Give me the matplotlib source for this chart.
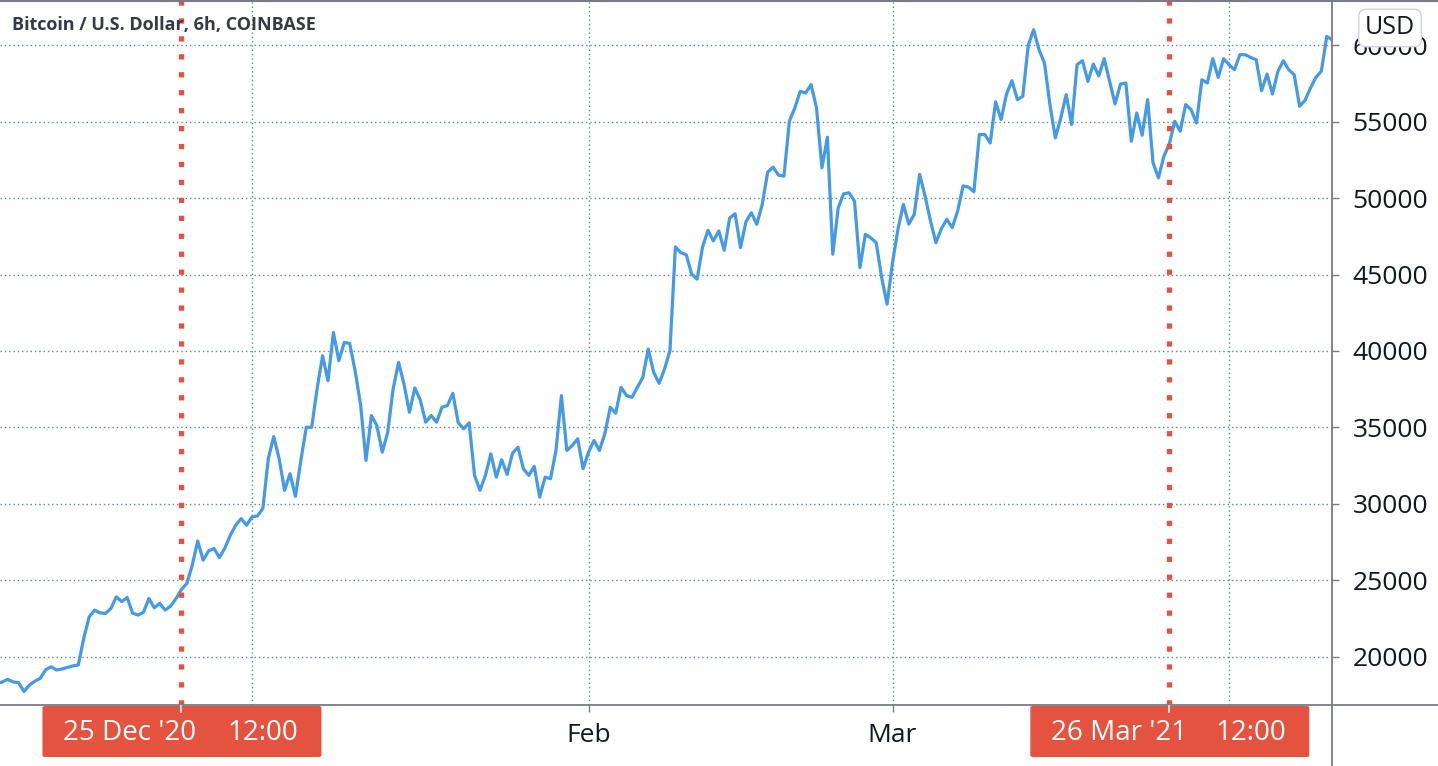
import matplotlib.pyplot as plt
import matplotlib.dates as mdates
from matplotlib.lines import Line2D
from matplotlib.patches import FancyBboxPatch
import pandas as pd

plt.rcParams['font.family'] = ['Open Sans', 'DejaVu Sans']

# BTC/USD closes, every 12 hours from 8 Dec 2020 12:00
prices = [
    18250, 18350, 18520, 18350, 18300, 17720, 18150, 18400, 18590, 19150,
    19340, 19130, 19200, 19300, 19400, 19460, 21200, 22600, 23050, 22870,
    22830, 23150, 23916, 23600, 23877, 22850, 22722, 22900, 23812, 23200,
    23485, 23048, 23309, 23800, 24400, 24790, 26000, 27572, 26312, 26919,
    27075, 26488, 27100, 27944, 28600, 29034, 28597, 29150, 29200, 29700,
    32950, 34405, 32950, 30881, 31971, 30489, 32839, 35012, 35012, 37550,
    39692, 38060, 41213, 39366, 40560, 40495, 38700, 36500, 32839, 35776,
    35123, 33381, 34686, 37518, 39255, 37845, 35992, 37584, 36800, 35339,
    35776, 35339, 36318, 36430, 37231, 35300, 34908, 35300, 31860, 30881,
    31860, 33275, 31748, 32885, 31924, 33315, 33706, 32297, 31860, 32447,
    30443, 31748, 31644, 33491, 37082, 33491, 33817, 34255, 32297, 33381,
    34145, 33491, 34582, 36318, 35926, 37623, 37082, 36970, 37623, 38276,
    40129, 38602, 37885, 38824, 40018, 46807, 46434, 46300, 45024, 44698,
    46800, 47897, 47198, 47850, 46591, 48700, 48980, 46761, 48458, 49045,
    48288, 49594, 51700, 52028, 51500, 51441, 55031, 55899, 56989, 56878,
    57426, 55899, 51983, 53986, 46330, 49372, 50285, 50351, 49800, 45455,
    47635, 47400, 47087, 44803, 43066, 45782, 47962, 49594, 48300, 48941,
    51552, 50135, 48504, 47087, 48000, 48614, 48066, 49156, 50800, 50723,
    50416, 54163, 54163, 53614, 56300, 55142, 56800, 57687, 56447, 56662,
    60000, 61016, 59700, 58836, 56120, 53941, 55250, 56773, 54816, 58731,
    58993, 57641, 58771, 58000, 59123, 57641, 56160, 57465, 57530, 53725,
    55572, 54117, 56447, 52309, 51330, 52746, 53549, 55031, 54378, 56120,
    55794, 54919, 57752, 57530, 59123, 57900, 59123, 58731, 58405, 59384,
    59384, 59200, 59058, 57034, 58118, 56812, 58294, 58993, 58400, 58079,
    56010, 56400, 57200, 57902, 58300, 60579, 60363,
]
dates = pd.date_range('2020-12-08 12:00', periods=len(prices), freq='12h')

price_ticks = [20000, 25000, 30000, 35000, 40000, 45000, 50000, 55000, 60000]
month_ticks = pd.to_datetime(['2021-01-01', '2021-02-01', '2021-03-01', '2021-04-01'])
month_labels = ['', 'Feb', 'Mar', '']
marker_dates = pd.to_datetime(['2020-12-25 12:00', '2021-03-26 12:00'])
marker_days = ["25 Dec '20", "26 Mar '21"]
marker_times = ['12:00', '12:00']

BLUE = '#4499e9'
RED = '#e4533f'
GRID = '#5b8c8f'
AXIS = '#787b86'
TEXT = '#131722'

W, H = 1438, 766
fig = plt.figure(figsize=(W / 100, H / 100), dpi=100)
ax = fig.add_axes([0, 61 / H, 1331.5 / W, 704 / H])

ax.plot(dates, prices, color=BLUE, lw=2.3, solid_joinstyle='round', zorder=3)
for d in marker_dates:
    ax.axvline(d, color=RED, lw=3.8, linestyle=(0, (1, 2.4)), zorder=4)

ax.set_xlim(pd.Timestamp('2020-12-08 18:53'), pd.Timestamp('2021-04-10 10:30'))
ax.set_ylim(16840, 62898)

ax.set_yticks(price_ticks)
ax.set_yticklabels([str(v) for v in price_ticks])
ax.set_xticks(month_ticks)
ax.set_xticklabels(month_labels)
ax.grid(True, color=GRID, linestyle=(0, (1, 2.1)), lw=1.0)

ax.yaxis.tick_right()
ax.tick_params(axis='y', length=5, width=1, color=AXIS, labelsize=19,
               labelcolor=TEXT, pad=10)
ax.tick_params(axis='x', length=5, width=1, color=AXIS, labelsize=19,
               labelcolor=TEXT, pad=8)
for s in ax.spines.values():
    s.set_visible(False)

# axis lines run past the plot area, like the TradingView frame
fig.add_artist(Line2D([0, 1], [61 / H, 61 / H], transform=fig.transFigure,
                      color=AXIS, lw=1.3))
fig.add_artist(Line2D([1331.5 / W] * 2, [0, 1], transform=fig.transFigure,
                      color=AXIS, lw=1.3))
fig.add_artist(Line2D([0, 1], [1 - 1 / H] * 2, transform=fig.transFigure,
                      color=AXIS, lw=1.5))

fig.text(12 / W, 1 - 25 / H, 'Bitcoin / U.S. Dollar, 6h, COINBASE',
         fontsize=13, fontweight='bold', color='#363a45', va='center')

# red date labels under the two marker lines
for d, day, tm in zip(marker_dates, marker_days, marker_times):
    xd = ax.transData.transform((mdates.date2num(d), 0))[0]
    fig.add_artist(FancyBboxPatch(((xd - 139) / W, 9 / H), 279 / W, 51 / H,
                                  boxstyle='round,pad=0,rounding_size=0.002',
                                  transform=fig.transFigure, fc=RED, ec='none',
                                  zorder=5))
    fig.add_artist(Line2D([xd / W] * 2, [54 / H, 60 / H], transform=fig.transFigure,
                          color='white', lw=1.2, zorder=6))
    fig.text((xd - 118) / W, 33 / H, day, ha='left', va='center', color='white',
             fontsize=20, zorder=6)
    fig.text((xd + 117) / W, 33 / H, tm, ha='right', va='center', color='white',
             fontsize=20, zorder=6)

fig.text(1390 / W, 1 - 28 / H, 'USD', ha='center', va='center', fontsize=18,
         color=TEXT, zorder=6,
         bbox=dict(boxstyle='round,pad=0.25,rounding_size=0.3', fc='white',
                   ec='#d1d4dc', lw=1))

fig.savefig('out.png', dpi=100)
